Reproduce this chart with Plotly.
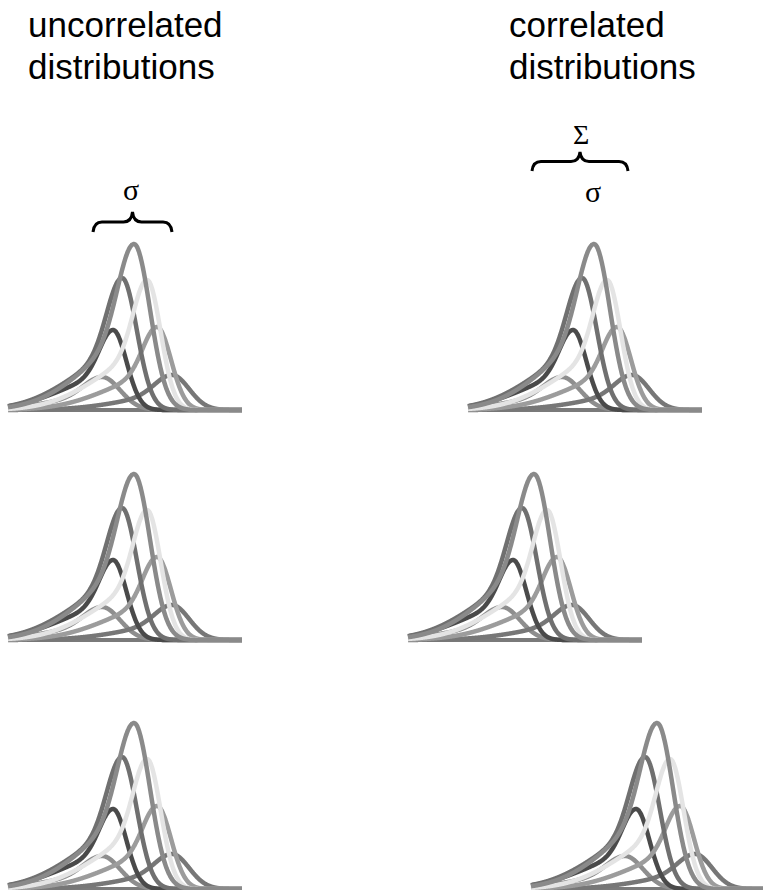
import numpy as np
import plotly.graph_objects as go

# ---- data: one family of tuning-like distributions (x relative to tallest peak) ----
curve_means = [-32, 38, -21, 23, -12, 13, 0]
curve_heights = [33, 35, 80, 83, 132, 130, 166]
curve_sd_right = [18, 17, 13.5, 14, 14.8, 13.6, 16]
curve_tail_sd = [50, 50, 50, 50, 50, 50, 50]
curve_tail_weight = [0.4, 0.4, 0.42, 0.4, 0.4, 0.4, 0.4]
curve_colors = ["#8e8e8e", "#777777", "#4a4a4a", "#9c9c9c", "#707070", "#e4e4e4", "#8a8a8a"]
support = [-126, 108]

# panel placement (layout)
W, H = 763, 890
row_baselines = [410, 640, 889]
left_centers = [134, 134, 134]
right_centers = [594, 534, 657]


def skewed_curve(x, m, h, sr, st, wt):
    d = x - m
    core = np.exp(-0.5 * (d / sr) ** 2)
    left = (1 - wt) * core + wt * np.exp(-0.5 * (d / st) ** 2)
    return h * np.where(d < 0, left, core)


fig = go.Figure()
xs = np.arange(support[0], support[1] + 0.5, 0.5)

for r, base in enumerate(row_baselines):
    yname = "y" if r == 0 else f"y{r + 1}"
    for c0 in (left_centers[r], right_centers[r]):
        fig.add_trace(go.Scatter(x=[c0 + support[0], c0 + support[1]], y=[0, 0], mode="lines",
                                 line=dict(color="#7a7a7a", width=4), xaxis="x", yaxis=yname,
                                 hoverinfo="skip", showlegend=False))
        for m, h, sr, st, wt, col in zip(curve_means, curve_heights, curve_sd_right,
                                         curve_tail_sd, curve_tail_weight, curve_colors):
            ys = skewed_curve(xs, m, h, sr, st, wt)
            fig.add_trace(go.Scatter(x=xs + c0, y=ys, mode="lines",
                                     line=dict(color=col, width=4.5, shape="spline"),
                                     xaxis="x", yaxis=yname, hoverinfo="skip", showlegend=False))

layout_axes = {}
for r, base in enumerate(row_baselines):
    pad = min(5, H - base)
    bottom = base + pad
    top = bottom - 200
    key = "yaxis" if r == 0 else f"yaxis{r + 1}"
    layout_axes[key] = dict(range=[-pad, 200 - pad], domain=[1 - bottom / H, 1 - top / H],
                            visible=False, anchor="x", fixedrange=True)

fig.update_layout(
    width=W, height=H, margin=dict(l=0, r=0, t=0, b=0),
    paper_bgcolor="white", plot_bgcolor="rgba(0,0,0,0)",
    xaxis=dict(range=[0, W], domain=[0, 1], visible=False, fixedrange=True),
    **layout_axes,
)


def px(x):
    return x / W


def py(y):
    return 1 - y / H


def brace(x0, x1, ytip, yend):
    xc = (x0 + x1) / 2
    ya = ytip + (yend - ytip) * 0.5
    r = 9
    pts = [
        f"M {px(x0)},{py(yend)}",
        f"Q {px(x0 + 1)},{py(ya)} {px(x0 + r)},{py(ya)}",
        f"L {px(xc - r)},{py(ya)}",
        f"Q {px(xc - 1)},{py(ya)} {px(xc)},{py(ytip)}",
        f"Q {px(xc + 1)},{py(ya)} {px(xc + r)},{py(ya)}",
        f"L {px(x1 - r)},{py(ya)}",
        f"Q {px(x1 - 1)},{py(ya)} {px(x1)},{py(yend)}",
    ]
    return dict(type="path", xref="paper", yref="paper", path=" ".join(pts),
                line=dict(color="black", width=3))


fig.update_layout(shapes=[brace(93, 172, 212, 232), brace(532, 628, 152, 171)])

sans = "Liberation Sans, Arial, sans-serif"
serif = "Liberation Serif, Times New Roman, serif"
ann = []
for txt, x, yc in [("uncorrelated", 26, 25), ("distributions", 26, 66),
                   ("correlated", 507, 25), ("distributions", 507, 66)]:
    ann.append(dict(text=txt, x=px(x), y=py(yc), xref="paper", yref="paper", xanchor="left",
                    yanchor="middle", showarrow=False, font=dict(family=sans, size=35, color="black")))
for txt, x, yc, sz in [("σ", 131, 189, 30), ("Σ", 581, 134, 28), ("σ", 593, 191, 30)]:
    ann.append(dict(text=txt, x=px(x), y=py(yc), xref="paper", yref="paper", xanchor="center",
                    yanchor="middle", showarrow=False, font=dict(family=serif, size=sz, color="black")))
fig.update_layout(annotations=ann)

fig.write_html("out.html", config={"displayModeBar": False},
               post_script="document.body.style.margin='0';document.body.style.overflow='hidden';")
